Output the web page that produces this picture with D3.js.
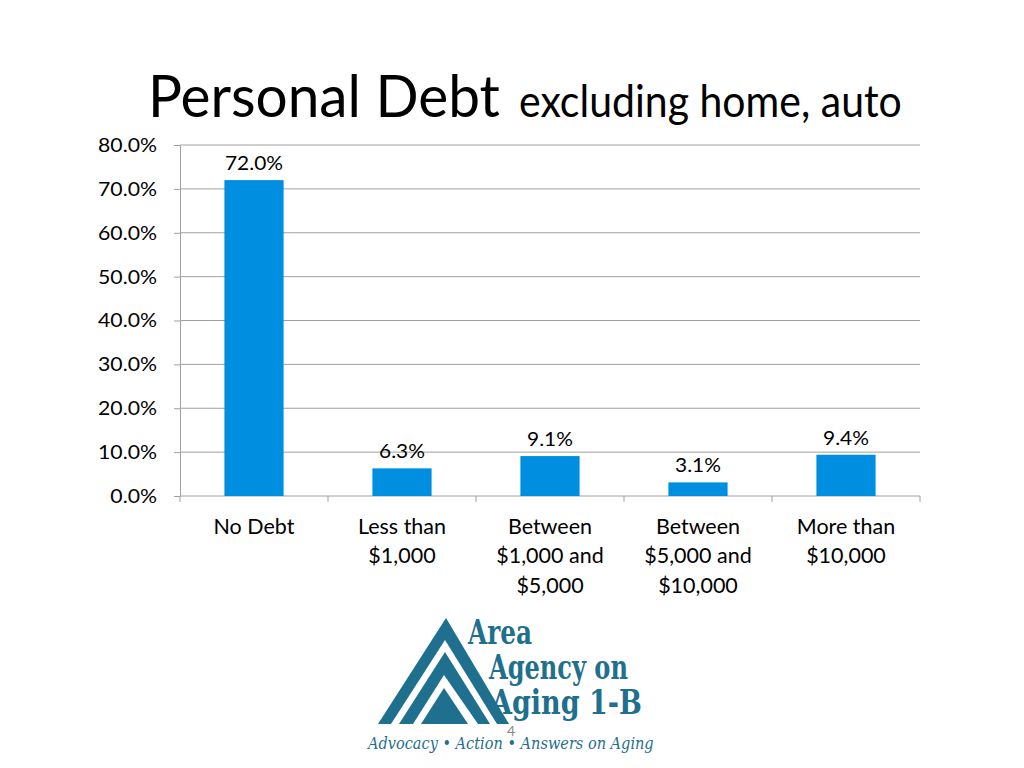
<!DOCTYPE html>
<html><head><meta charset="utf-8">
<script src="https://cdn.jsdelivr.net/npm/d3@7"></script>
<style>html,body{margin:0;padding:0;background:#fff;}svg{display:block;}</style>
</head><body>
<svg id="c" width="1024" height="768"></svg>
<script>
const categories = [["No Debt"], ["Less than", "$1,000"], ["Between", "$1,000 and", "$5,000"], ["Between", "$5,000 and", "$10,000"], ["More than", "$10,000"]];
const values = [72.0, 6.3, 9.1, 3.1, 9.4];
const yTicks = [0, 10, 20, 30, 40, 50, 60, 70, 80];

const svg = d3.select("#c");
const font = "Lato, 'Open Sans', sans-serif";
const m = {left: 180, right: 920, top: 145, bottom: 496};

// horizontally scale a text so its width equals w (around its anchor point)
function squeezeFactor(sel, w) { return w / sel.node().getComputedTextLength(); }
function applyScale(sel, k) {
  sel.each(function() {
    const t = d3.select(this);
    const ax = +t.attr("x"), ay = +t.attr("y");
    t.attr("transform", `translate(${ax},${ay}) scale(${k},1) translate(${-ax},${-ay})`);
  });
}

// title
const t1 = svg.append("text").attr("x", 148).attr("y", 117).attr("font-family", font).attr("font-size", 58).attr("fill", "#000").text("Personal Debt");
applyScale(t1, squeezeFactor(t1, 352));
const t2 = svg.append("text").attr("x", 519).attr("y", 117).attr("font-family", font).attr("font-size", 44).attr("fill", "#000").text("excluding home, auto");
applyScale(t2, squeezeFactor(t2, 383));

const x = d3.scaleBand().domain(d3.range(categories.length)).range([m.left, m.right]).paddingInner(0).paddingOuter(0);
const y = d3.scaleLinear().domain([0, 80]).range([m.bottom, m.top]);

// gridlines
svg.append("g").selectAll("line").data(yTicks.filter(d => d > 0)).join("line")
  .attr("x1", m.left).attr("x2", m.right).attr("y1", d => y(d)).attr("y2", d => y(d))
  .attr("stroke", "#a0a0a0").attr("stroke-width", 1);

// y axis
const ya = svg.append("g").attr("transform", `translate(${m.left},0)`)
  .call(d3.axisLeft(y).tickValues(yTicks).tickSize(6).tickFormat(d => d.toFixed(1) + "%"));
ya.select(".domain").attr("stroke", "#a0a0a0");
ya.selectAll(".tick line").attr("stroke", "#a0a0a0");
const yl = ya.selectAll("text").attr("font-family", font).attr("font-size", 18.5).attr("fill", "#000").attr("x", -23).attr("y", 0).attr("dy", "0.35em");
const kY = squeezeFactor(yl.filter(d => d === 80), 59);
applyScale(yl, kY);

// x axis
svg.append("line").attr("x1", m.left).attr("x2", m.right).attr("y1", m.bottom).attr("y2", m.bottom).attr("stroke", "#a0a0a0");
svg.append("g").selectAll("line").data(d3.range(categories.length + 1)).join("line")
  .attr("x1", d => m.left + d * x.step()).attr("x2", d => m.left + d * x.step())
  .attr("y1", m.bottom).attr("y2", m.bottom + 6).attr("stroke", "#a0a0a0");

// bars
const bw = x.bandwidth() * 0.4;
svg.append("g").selectAll("rect").data(values).join("rect")
  .attr("x", (d, i) => x(i) + (x.bandwidth() - bw) / 2)
  .attr("width", bw)
  .attr("y", d => y(d))
  .attr("height", d => y(0) - y(d))
  .attr("fill", "#008FE0");

// value labels
const vl = svg.append("g").selectAll("text").data(values).join("text")
  .attr("x", (d, i) => x(i) + x.bandwidth() / 2)
  .attr("y", d => y(d) - 10)
  .attr("text-anchor", "middle").attr("font-family", font).attr("font-size", 19.5).attr("fill", "#000")
  .text(d => d.toFixed(1) + "%");
applyScale(vl, squeezeFactor(vl.filter((d, i) => i === 0), 58));

// category labels
const cl = svg.append("g").selectAll("text").data(categories).join("text")
  .attr("x", (d, i) => x(i) + x.bandwidth() / 2)
  .attr("y", 534)
  .attr("text-anchor", "middle").attr("font-family", font).attr("font-size", 20.5).attr("fill", "#000");
cl.selectAll("tspan").data(d => d).join("tspan")
  .attr("x", function() { return this.parentNode.getAttribute("x"); })
  .attr("dy", (d, i) => i === 0 ? 0 : 29.5)
  .text(d => d);
applyScale(cl, squeezeFactor(cl.filter((d, i) => i === 0), 81));

// logo
const blue = "#1F6F8E";
const lg = svg.append("g");
const baseY = 724;
const tri = (ax, ay, bl, br) => `M${ax},${ay}L${br},${baseY}L${bl},${baseY}Z`;
lg.append("path").attr("d", tri(446, 618, 378, 509)).attr("fill", blue);
lg.append("path").attr("d", tri(445, 640, 391, 497)).attr("fill", "#fff");
lg.append("path").attr("d", tri(445, 652, 399, 490)).attr("fill", blue);
lg.append("path").attr("d", tri(444, 675, 413, 478)).attr("fill", "#fff");
lg.append("path").attr("d", tri(444, 688, 421, 468)).attr("fill", blue);

const sf = "'DejaVu Serif Condensed', 'DejaVu Serif', serif";
function logoText(tx, ty, txt, w, fs) {
  const s = lg.append("text").attr("x", tx).attr("y", ty).attr("font-family", sf).attr("font-weight", "bold").attr("font-size", fs).attr("fill", blue).text(txt);
  applyScale(s, squeezeFactor(s, w));
}
logoText(468, 644, "Area", 64, 33);
logoText(489, 679, "Agency on", 139, 33);
logoText(491, 714, "Aging 1-B", 151, 33);
const a4 = lg.append("text").attr("x", 368).attr("y", 749).attr("font-family", "'DejaVu Serif', serif").attr("font-style", "italic").attr("font-size", 17).attr("fill", blue).text("Advocacy • Action • Answers on Aging");
applyScale(a4, squeezeFactor(a4, 286));

svg.append("text").attr("x", 511).attr("y", 736).attr("text-anchor", "middle").attr("font-family", font).attr("font-size", 14).attr("fill", "#888").text("4");
</script>
</body></html>
